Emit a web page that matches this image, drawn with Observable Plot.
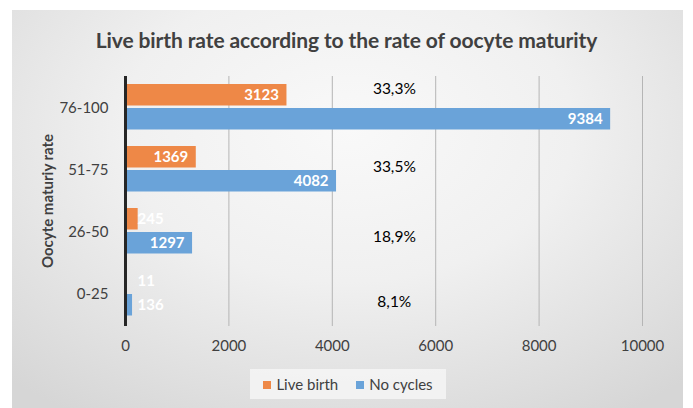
<!DOCTYPE html>
<html>
<head>
<meta charset="utf-8">
<script src="https://cdn.jsdelivr.net/npm/d3@7"></script>
<script src="https://cdn.jsdelivr.net/npm/@observablehq/plot@0.6"></script>
<style>
  html, body { margin: 0; padding: 0; background: #fff; }
  #wrap { position: relative; width: 693px; height: 408px; overflow: hidden; background: #fff; font-family: Lato, "Open Sans", sans-serif; }
  #frame { position: absolute; left: 12px; top: 10px; width: 671px; height: 398px;
    background: radial-gradient(ellipse 75% 85% at 50% 30%, #f9f9f9 0%, #f0f0f0 45%, #d6d6d6 100%); }
  #title { position: absolute; left: 0; width: 693px; top: 27px; text-align: center; font-size: 21px; font-weight: bold; color: #404040; letter-spacing: -0.1px; }
  #chart { position: absolute; left: 0; top: 0; }
  #legend { position: absolute; left: 250px; top: 369px; width: 196px; height: 30px; background: rgba(246,246,246,0.8);
    display: flex; align-items: center; justify-content: center; gap: 18px; font-size: 15px; color: #404040; }
  #legend span.sw { display: inline-block; width: 8px; height: 8px; margin-right: 5px; vertical-align: 1px; }
  #ytitle { position: absolute; left: 47px; top: 201px; transform: translate(-50%, -50%) rotate(-90deg); white-space: nowrap; font-size: 15px; font-weight: bold; color: #404040; }
</style>
</head>
<body>
<div id="wrap">
  <div id="frame"></div>
  <div id="title">Live birth rate according to the rate of oocyte maturity</div>
  <div id="chart"></div>
  <div id="ytitle">Oocyte maturiy rate</div>
  <div id="legend"></div>
</div>
<script>
const categories = ["76-100", "51-75", "26-50", "0-25"];
const liveBirth = [3123, 1369, 245, 11];
const noCycles = [9384, 4082, 1297, 136];
const rates = ["33,3%", "33,5%", "18,9%", "8,1%"];
const seriesNames = ["Live birth", "No cycles"];
const colors = ["#EE8847", "#6AA3D9"];
const xTicks = [0, 2000, 4000, 6000, 8000, 10000];

const lb = categories.map((c, i) => ({cat: c, value: liveBirth[i], series: seriesNames[0]}));
const nc = categories.map((c, i) => ({cat: c, value: noCycles[i], series: seriesNames[1]}));
const rateData = categories.map((c, i) => ({cat: c, rate: rates[i]}));
const rateDy = [-19, -3, 5, 8];

const threshold = 1000;
const labelFont = {fill: "white", fontWeight: "bold", fontSize: 15, fontFamily: "Lato, sans-serif"};

const marks = [
  Plot.gridX(xTicks.filter(d => d > 0), {stroke: "#b5b5b5", strokeOpacity: 1, strokeWidth: 1}),
  Plot.barX(lb, {y: "cat", x: "value", fill: colors[0], insetTop: 7, insetBottom: 33.5}),
  Plot.barX(nc, {y: "cat", x: "value", fill: colors[1], insetTop: 31, insetBottom: 9.5}),
  Plot.ruleX([0], {stroke: "#262626", strokeWidth: 3}),
  // inside-end labels
  Plot.text(lb.filter(d => d.value >= threshold), {y: "cat", x: "value", text: d => String(d.value), textAnchor: "end", dx: -8, dy: -13, ...labelFont}),
  Plot.text(nc.filter(d => d.value >= threshold), {y: "cat", x: "value", text: d => String(d.value), textAnchor: "end", dx: -8, dy: 11, ...labelFont}),
  // clamped labels for short bars
  Plot.text(lb.filter(d => d.value < threshold), {y: "cat", x: () => 0, text: d => String(d.value), textAnchor: "start", dx: 12, dy: -13, ...labelFont}),
  Plot.text(nc.filter(d => d.value < threshold), {y: "cat", x: () => 0, text: d => String(d.value), textAnchor: "start", dx: 12, dy: 11, ...labelFont})
];
rateData.forEach((d, i) => {
  marks.push(Plot.text([d], {y: "cat", x: () => 5200, text: "rate", dy: rateDy[i], fontSize: 15.5, fill: "#000", fontFamily: "Lato, sans-serif"}));
});

const chart = Plot.plot({
  width: 693,
  height: 408,
  marginLeft: 125,
  marginRight: 51,
  marginTop: 76,
  marginBottom: 82,
  style: {background: "transparent", fontFamily: "Lato, sans-serif", color: "#404040", overflow: "visible"},
  x: {domain: [0, 10000], ticks: xTicks, tickSize: 0, tickPadding: 14, tickFormat: d => String(d), label: null},
  y: {domain: categories, padding: 0, tickSize: 0, tickPadding: 17, label: null},
  marks: [
    Plot.axisX({ticks: xTicks, tickSize: 0, tickPadding: 14, tickFormat: d => String(d), fontSize: 15, fill: "#404040", label: null}),
    Plot.axisY({tickSize: 0, tickPadding: 17, fontSize: 15, fill: "#404040", label: null}),
    ...marks
  ]
});
document.getElementById("chart").appendChild(chart);

const legend = document.getElementById("legend");
seriesNames.forEach((n, i) => {
  const item = document.createElement("div");
  item.innerHTML = `<span class="sw" style="background:${colors[i]}"></span>${n}`;
  legend.appendChild(item);
});
</script>
</body>
</html>
